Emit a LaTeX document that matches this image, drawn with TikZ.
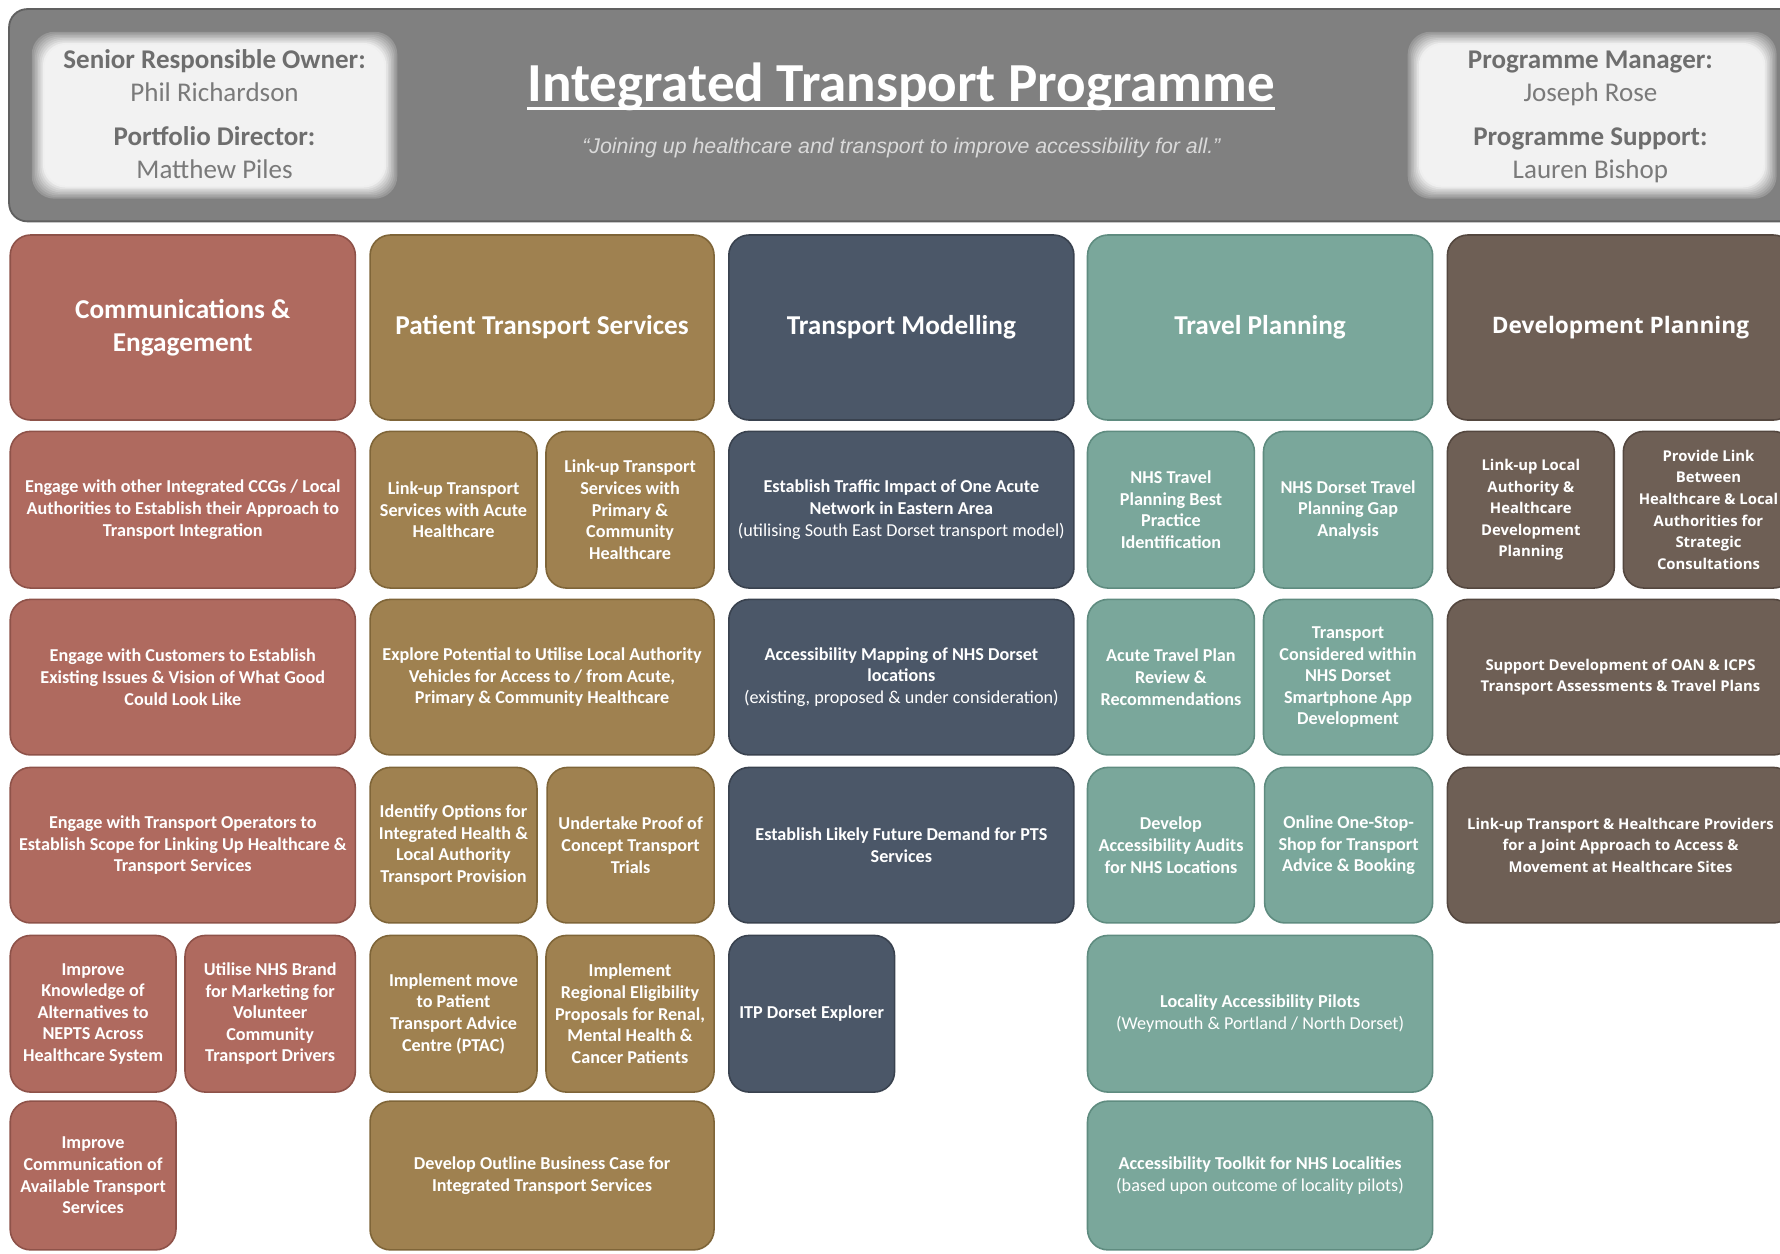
\documentclass[tikz,border=0pt]{standalone}
\usepackage{fontspec}
\setmainfont{Carlito}
\newfontfamily\osfont{Open Sans}
\newfontfamily\qfont{Liberation Sans}
\definecolor{cred}{HTML}{AF6A5F}\definecolor{credd}{HTML}{8E5249}
\definecolor{cgold}{HTML}{9F8150}\definecolor{cgoldd}{HTML}{7F6538}
\definecolor{cslate}{HTML}{4B5768}\definecolor{cslated}{HTML}{39424F}
\definecolor{cteal}{HTML}{7AA79B}\definecolor{cteald}{HTML}{5F8C80}
\definecolor{cbrown}{HTML}{6E5F55}\definecolor{cbrownd}{HTML}{54473F}
\definecolor{bandgray}{HTML}{808080}\definecolor{bandgrayd}{HTML}{606060}
\definecolor{wbox}{HTML}{F2F2F2}
\definecolor{lbl}{HTML}{6E6E6E}\definecolor{nme}{HTML}{7A7A7A}
\definecolor{quote}{HTML}{DADADA}
\newcommand\mybox[7]{\node[#6, minimum width={#4-#2}, minimum height={#5-#3}] (#1) at ({(#2+#4)/2},{(#3+#5)/2}) {#7};}
\begin{document}
\begin{tikzpicture}[x=1pt,y=-1pt,
  base/.style={rectangle, rounded corners=18pt, line width=1.4pt, inner sep=3pt, align=center, text=white},
  hd/.style={base, font=\bfseries\fontsize{24}{29}\selectfont},
  bd/.style={base, font=\bfseries\fontsize{16}{19}\selectfont},
  dvhd/.style={base, font=\osfont\bfseries\fontsize{20}{26}\selectfont},
  dvbd/.style={base, font=\osfont\bfseries\fontsize{13.1}{19}\selectfont},
  cr/.style={fill=cred, draw=credd},
  cg/.style={fill=cgold, draw=cgoldd},
  cs/.style={fill=cslate, draw=cslated},
  ct/.style={fill=cteal, draw=cteald},
  cb/.style={fill=cbrown, draw=cbrownd},
  bandst/.style={rectangle, rounded corners=16pt, fill=bandgray, draw=bandgrayd, line width=1.6pt},
  lab/.style={anchor=base, inner sep=0pt, text=lbl, font=\bfseries\fontsize{23.8}{28}\selectfont},
  nam/.style={anchor=base, inner sep=0pt, text=nme, font=\fontsize{23.8}{28}\selectfont}]
\useasboundingbox (0,0) rectangle (1568,1104);
\clip (0,0) rectangle (1568,1104);
\fill[white] (0,0) rectangle (1568,1104);
% header band
\mybox{band}{8}{8}{1600}{195}{bandst}{}
% soft white boxes
\foreach \i in {0,...,8}{
  \pgfmathsetmacro\pc{min(100,20+\i*11)}
  \fill[wbox!\pc!bandgray, rounded corners=20pt] ({28+\i*1.4},{28+\i*1.4}) rectangle ({350-\i*1.4},{175-\i*1.4});
  \fill[wbox!\pc!bandgray, rounded corners=20pt] ({1240+\i*1.4},{28+\i*1.4}) rectangle ({1565-\i*1.4},{175-\i*1.4});
}
\node[lab] (sro) at (189,60) {Senior Responsible Owner:};
\node[nam] (sron) at (189,89) {Phil Richardson};
\node[lab] (pd) at (189,128) {Portfolio Director:};
\node[nam] (pdn) at (189,157) {Matthew Piles};
\node[lab] (pm) at (1401,60) {Programme Manager:};
\node[nam] (pmn) at (1401,89) {Joseph Rose};
\node[lab] (ps) at (1401,128) {Programme Support:};
\node[nam] (psn) at (1401,157) {Lauren Bishop};
\node[anchor=base, inner sep=0pt, text=white, font=\bfseries\fontsize{48.5}{56}\selectfont] (title) at (794,89) {Integrated Transport Programme};
\draw[white, line width=2.6pt] ([yshift=-6.5pt]title.base west) -- ([yshift=-6.5pt]title.base east);
\node[anchor=center, inner sep=0pt, text=quote, font=\qfont\itshape\fontsize{18.8}{22}\selectfont] (quote) at (794,130) {“Joining up healthcare and transport to improve accessibility for all.”};
% headers
\mybox{h1}{9}{207}{313}{370}{hd,cr}{Communications \&\\Engagement}
\mybox{h2}{326}{207}{629}{370}{hd,cg}{Patient Transport Services}
\mybox{h3}{642}{207}{946}{370}{hd,cs}{Transport Modelling}
\mybox{h4}{958}{207}{1262}{370}{hd,ct}{Travel Planning}
\mybox{h5}{1275}{207}{1580}{370}{dvhd,cb}{Development Planning}
% row 1
\mybox{a1}{9}{380}{313}{518}{bd,cr}{Engage with other Integrated CCGs / Local\\Authorities to Establish their Approach to\\Transport Integration}
\mybox{a2}{326}{380}{473}{518}{bd,cg}{Link-up Transport\\Services with Acute\\Healthcare}
\mybox{a3}{481}{380}{629}{518}{bd,cg}{Link-up Transport\\Services with\\Primary \&\\Community\\Healthcare}
\mybox{a4}{642}{380}{946}{518}{bd,cs}{Establish Traffic Impact of One Acute\\Network in Eastern Area\\{\mdseries (utilising South East Dorset transport model)}}
\mybox{a5}{958}{380}{1105}{518}{bd,ct}{NHS Travel\\Planning Best\\Practice\\Identification}
\mybox{a6}{1113}{380}{1262}{518}{bd,ct}{NHS Dorset Travel\\Planning Gap\\Analysis}
\mybox{a7}{1275}{380}{1422}{518}{dvbd,cb}{Link-up Local\\Authority \&\\Healthcare\\Development\\Planning}
\mybox{a8}{1430}{380}{1580}{518}{dvbd,cb}{Provide Link\\Between\\Healthcare \& Local\\Authorities for\\Strategic\\Consultations}
% row 2
\mybox{b1}{9}{528}{313}{665}{bd,cr}{Engage with Customers to Establish\\Existing Issues \& Vision of What Good\\Could Look Like}
\mybox{b2}{326}{528}{629}{665}{bd,cg}{Explore Potential to Utilise Local Authority\\Vehicles for Access to / from Acute,\\Primary \& Community Healthcare}
\mybox{b3}{642}{528}{946}{665}{bd,cs}{Accessibility Mapping of NHS Dorset\\locations\\{\mdseries (existing, proposed \& under consideration)}}
\mybox{b4}{958}{528}{1105}{665}{bd,ct}{Acute Travel Plan\\Review \&\\Recommendations}
\mybox{b5}{1113}{528}{1262}{665}{bd,ct}{Transport\\Considered within\\NHS Dorset\\Smartphone App\\Development}
\mybox{b6}{1275}{528}{1580}{665}{dvbd,cb}{Support Development of OAN \& ICPS\\Transport Assessments \& Travel Plans}
% row 3
\mybox{c1}{9}{676}{313}{813}{bd,cr}{Engage with Transport Operators to\\Establish Scope for Linking Up Healthcare \&\\Transport Services}
\mybox{c2}{326}{676}{473}{813}{bd,cg}{Identify Options for\\Integrated Health \&\\Local Authority\\Transport Provision}
\mybox{c3}{482}{676}{629}{813}{bd,cg}{Undertake Proof of\\Concept Transport\\Trials}
\mybox{c4}{642}{676}{946}{813}{bd,cs}{Establish Likely Future Demand for PTS\\Services}
\mybox{c5}{958}{676}{1105}{813}{bd,ct}{Develop\\Accessibility Audits\\for NHS Locations}
\mybox{c6}{1114}{676}{1262}{813}{bd,ct}{Online One-Stop-\\Shop for Transport\\Advice \& Booking}
\mybox{c7}{1275}{676}{1580}{813}{dvbd,cb}{Link-up Transport \& Healthcare Providers\\for a Joint Approach to Access \&\\Movement at Healthcare Sites}
% row 4
\mybox{d1}{9}{824}{155}{962}{bd,cr}{Improve\\Knowledge of\\Alternatives to\\NEPTS Across\\Healthcare System}
\mybox{d2}{163}{824}{313}{962}{bd,cr}{Utilise NHS Brand\\for Marketing for\\Volunteer\\Community\\Transport Drivers}
\mybox{d3}{326}{824}{473}{962}{bd,cg}{Implement move\\to Patient\\Transport Advice\\Centre (PTAC)}
\mybox{d4}{481}{824}{629}{962}{bd,cg}{Implement\\Regional Eligibility\\Proposals for Renal,\\Mental Health \&\\Cancer Patients}
\mybox{d5}{642}{824}{788}{962}{bd,cs}{ITP Dorset Explorer}
\mybox{d6}{958}{824}{1262}{962}{bd,ct}{Locality Accessibility Pilots\\{\mdseries (Weymouth \& Portland / North Dorset)}}
% row 5
\mybox{e1}{9}{970}{155}{1101}{bd,cr}{Improve\\Communication of\\Available Transport\\Services}
\mybox{e2}{326}{970}{629}{1101}{bd,cg}{Develop Outline Business Case for\\Integrated Transport Services}
\mybox{e3}{958}{970}{1262}{1101}{bd,ct}{Accessibility Toolkit for NHS Localities\\{\mdseries (based upon outcome of locality pilots)}}
\end{tikzpicture}
\end{document}
